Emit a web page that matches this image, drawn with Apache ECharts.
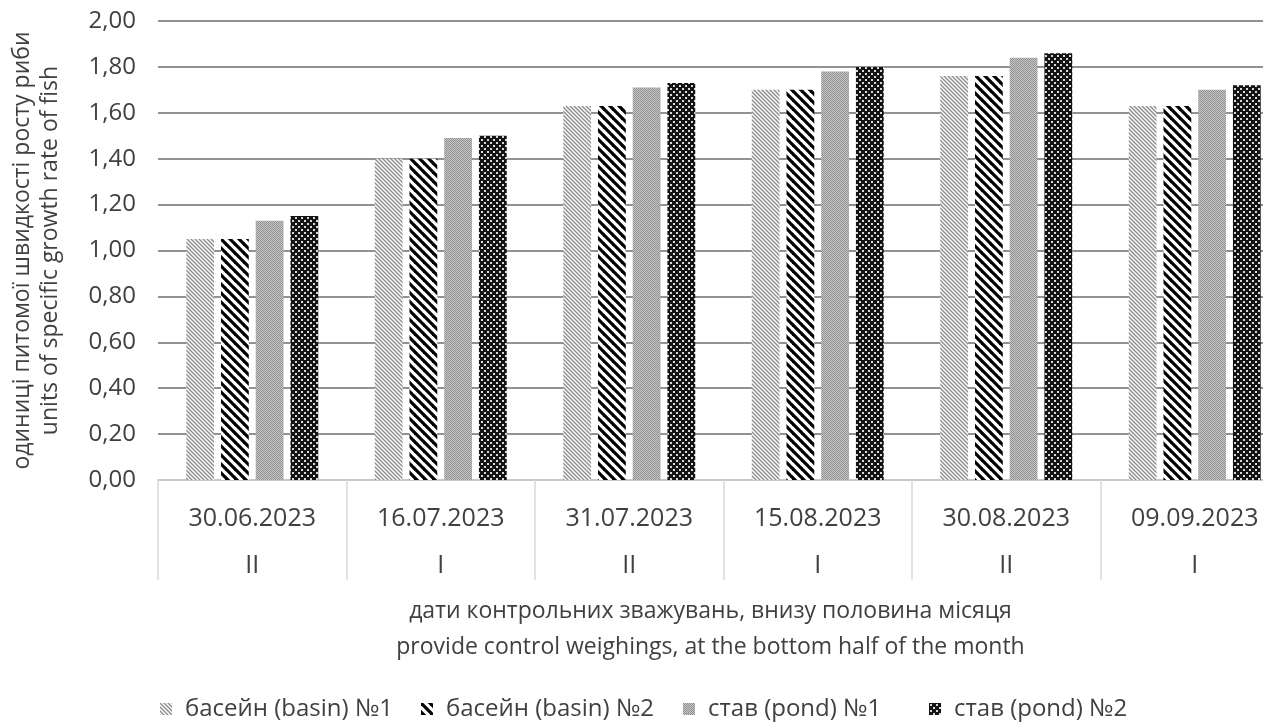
<!DOCTYPE html>
<html>
<head>
<meta charset="utf-8">
<script src="https://cdn.jsdelivr.net/npm/echarts@6/dist/echarts.min.js"></script>
<style>
  html, body { margin: 0; padding: 0; background: #fff; overflow: hidden; }
  #chart { width: 1290px; height: 726px; }
</style>
</head>
<body>
<div id="chart"></div>
<script>
// Control weighing dates and the half of the month each falls in
const dates = ['30.06.2023', '16.07.2023', '31.07.2023', '15.08.2023', '30.08.2023', '09.09.2023'];
const halves = ['II', 'I', 'II', 'I', 'II', 'I'];

// Specific growth rate of fish
const basin1 = [1.05, 1.40, 1.63, 1.70, 1.76, 1.63];
const basin2 = [1.05, 1.40, 1.63, 1.70, 1.76, 1.63];
const pond1  = [1.13, 1.49, 1.71, 1.78, 1.84, 1.70];
const pond2  = [1.15, 1.50, 1.73, 1.80, 1.86, 1.72];

const seriesNames = ['басейн (basin) №1', 'басейн (basin) №2', 'став (pond) №1', 'став (pond) №2'];
const yTicks = { min: 0, max: 2, step: 0.2 };

// Hatch / dot fills drawn onto small repeating tiles
function tile(size, draw) {
  const c = document.createElement('canvas');
  c.width = size; c.height = size;
  const ctx = c.getContext('2d');
  draw(ctx, size);
  return { image: c, repeat: 'repeat' };
}
function diagonal(ctx, n, color, width) {
  ctx.fillStyle = '#fff';
  ctx.fillRect(0, 0, n, n);
  ctx.strokeStyle = color;
  ctx.lineWidth = width;
  for (let i = -1; i <= 1; i++) {
    ctx.beginPath();
    ctx.moveTo(i * n - 1, -1);
    ctx.lineTo(i * n + n + 1, n + 1);
    ctx.stroke();
  }
}
const fillBasin1 = tile(4, (ctx, n) => diagonal(ctx, n, '#8f8f8f', 1.5));
const fillBasin2 = tile(9, (ctx, n) => diagonal(ctx, n, '#000', 3.2));
const fillPond1 = tile(2, (ctx) => {
  ctx.fillStyle = '#c6c6c6'; ctx.fillRect(0, 0, 2, 2);
  ctx.fillStyle = '#929292'; ctx.fillRect(0, 0, 1, 1); ctx.fillRect(1, 1, 1, 1);
});
const fillPond2 = tile(6, (ctx) => {
  ctx.fillStyle = '#141414'; ctx.fillRect(0, 0, 6, 6);
  ctx.fillStyle = '#d8d8d8';
  ctx.fillRect(1, 1, 2, 2);
  ctx.fillRect(4, 4, 2, 2);
});
const fills = [fillBasin1, fillBasin2, fillPond1, fillPond2];
const values = [basin1, basin2, pond1, pond2];

const font = '"Open Sans", "Noto Sans", sans-serif';
const legendLeft = [160, 421, 683, 929];

const chart = echarts.init(document.getElementById('chart'));

chart.setOption({
  animation: false,
  backgroundColor: '#fff',
  textStyle: { fontFamily: font },
  grid: { left: 158, top: 21, width: 1131, height: 459, containLabel: false },
  legend: seriesNames.map((name, k) => ({
    data: [name],
    top: 697,
    left: legendLeft[k],
    padding: 0,
    itemWidth: 12,
    itemHeight: 12,
    icon: 'rect',
    textStyle: { fontFamily: font, fontSize: 24, color: '#404040', padding: [0, 0, 0, 8] }
  })),
  xAxis: {
    type: 'category',
    data: dates,
    axisLine: { show: true, lineStyle: { color: '#d9d9d9', width: 1.5 } },
    axisTick: { show: true, interval: 0, length: 100, lineStyle: { color: '#d9d9d9', width: 1.5 } },
    axisLabel: {
      interval: 0,
      margin: 15,
      fontFamily: font,
      fontSize: 25,
      color: '#404040',
      lineHeight: 47,
      formatter: (v, i) => v + '\n' + halves[i]
    },
    name: 'дати контрольних зважувань, внизу половина місяця\nprovide control weighings, at the bottom half of the month',
    nameLocation: 'middle',
    nameGap: 113,
    nameTextStyle: { fontFamily: font, fontSize: 23, color: '#404040', lineHeight: 36, padding: [0, 26, 0, 0] }
  },
  yAxis: {
    type: 'value',
    min: yTicks.min,
    max: yTicks.max,
    interval: yTicks.step,
    axisLine: { show: false },
    axisTick: { show: false },
    splitLine: { lineStyle: { color: '#6e6e6e', width: 1.5 } },
    axisLabel: {
      margin: 22,
      fontFamily: font,
      fontSize: 24,
      color: '#404040',
      formatter: v => v.toFixed(2).replace('.', ',')
    },
    name: 'одиниці питомої швидкості росту риби\nunits of specific growth rate of fish',
    nameLocation: 'middle',
    nameRotate: 90,
    nameGap: 94,
    nameTextStyle: { fontFamily: font, fontSize: 23, color: '#404040', lineHeight: 28 }
  },
  series: seriesNames.map((name, k) => ({
    name,
    type: 'bar',
    data: values[k],
    barGap: '25%',
    barCategoryGap: '30%',
    itemStyle: { color: fills[k] }
  })),
  graphic: [{
    type: 'rect',
    z: 100,
    shape: { x: 1263, y: 0, width: 30, height: 490 },
    style: { fill: '#fff' }
  }]
});
</script>
</body>
</html>
